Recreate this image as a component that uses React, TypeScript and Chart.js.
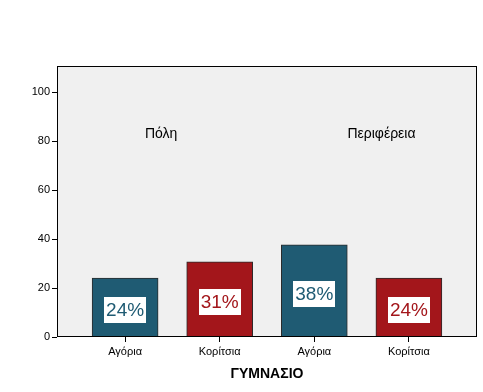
import React, { useEffect, useRef } from "react";
import { Chart, registerables } from "chart.js";

Chart.register(...registerables);

const categories = ["Αγόρια", "Κορίτσια", "Αγόρια", "Κορίτσια"];
const values = [24.1, 30.7, 37.7, 24.1];
const percentLabels = ["24%", "31%", "38%", "24%"];
const barColors = ["#1F5B73", "#A3161B", "#1F5B73", "#A3161B"];
const yTicks = [0, 20, 40, 60, 80, 100];
const groupLabels = ["Πόλη", "Περιφέρεια"];
const groupLabelX = [0.21, 2.35];
const groupLabelY = 81.2;
const axisTitle = "ΓΥΜΝΑΣΙΟ";

const FONT = "'Liberation Sans', Arial, sans-serif";

const plotPlugin = {
  id: "plotDecor",
  beforeDraw(chart: any) {
    const { ctx, chartArea: a, width, height } = chart;
    ctx.save();
    ctx.fillStyle = "#ffffff";
    ctx.fillRect(0, 0, width, height);
    ctx.fillStyle = "#F0F0F0";
    ctx.fillRect(a.left, a.top, a.right - a.left, a.bottom - a.top);
    ctx.restore();
  },
  afterDatasetsDraw(chart: any) {
    const { ctx, chartArea: a, scales } = chart;
    ctx.save();
    ctx.fillStyle = "#000000";
    ctx.font = `14px ${FONT}`;
    ctx.textAlign = "left";
    ctx.textBaseline = "alphabetic";
    groupLabels.forEach((t, i) => {
      ctx.fillText(t, scales.x.getPixelForValue(groupLabelX[i]), scales.y.getPixelForValue(groupLabelY));
    });
    const meta = chart.getDatasetMeta(0);
    ctx.font = `19px ${FONT}`;
    ctx.textAlign = "center";
    ctx.textBaseline = "middle";
    meta.data.forEach((bar: any, i: number) => {
      const cx = bar.x;
      const cy = (bar.y + bar.base) / 2 + 3;
      const w = 42, h = 26;
      ctx.fillStyle = "#ffffff";
      ctx.fillRect(Math.round(cx - w / 2), Math.round(cy - h / 2), w, h);
      ctx.fillStyle = barColors[i];
      ctx.fillText(percentLabels[i], cx, cy + 1);
    });
    ctx.strokeStyle = "#000000";
    ctx.lineWidth = 1;
    ctx.strokeRect(Math.round(a.left) + 0.5, Math.round(a.top) + 0.5, Math.round(a.right - a.left) - 1, Math.round(a.bottom - a.top) - 1);
    ctx.restore();
  },
};

export default function App() {
  const ref = useRef<HTMLCanvasElement | null>(null);
  useEffect(() => {
    document.body.style.margin = "0";
    const chart = new Chart(ref.current as HTMLCanvasElement, {
      type: "bar",
      data: {
        datasets: [
          {
            data: values.map((v, i) => ({ x: i, y: v })),
            backgroundColor: barColors,
            borderColor: "#2b2b2b",
            borderWidth: 1,
            barThickness: 66,
          } as any,
        ],
      },
      options: {
        animation: false,
        responsive: false,
        maintainAspectRatio: false,
        layout: { padding: { top: 66, right: 6, left: 0, bottom: 0 } },
        plugins: { legend: { display: false }, tooltip: { enabled: false } },
        scales: {
          x: {
            type: "linear",
            offset: false,
            min: -0.72,
            max: 3.72,
            afterBuildTicks: (s: any) => {
              s.ticks = categories.map((_, i) => ({ value: i }));
            },
            afterFit: (s: any) => {
              s.height = 55;
            },
            ticks: {
              callback: (v: any) => categories[v as number] ?? "",
              color: "#000000",
              font: { size: 11, family: FONT },
              padding: 3,
              maxRotation: 0,
              autoSkip: false,
            },
            grid: { offset: false, drawOnChartArea: false, tickLength: 5, color: "#000000" },
            border: { display: false },
            title: {
              display: true,
              text: axisTitle,
              color: "#000000",
              font: { size: 14, weight: "bold", family: FONT },
              padding: { top: 0, bottom: 9 },
            },
          },
          y: {
            min: 0,
            max: 110.7,
            afterBuildTicks: (s: any) => {
              s.ticks = yTicks.map((v) => ({ value: v }));
            },
            afterFit: (s: any) => {
              s.width = 57;
            },
            ticks: {
              color: "#000000",
              font: { size: 11, family: FONT },
              padding: 2,
            },
            grid: { drawOnChartArea: false, tickLength: 5, color: "#000000" },
            border: { display: false },
          },
        },
      },
      plugins: [plotPlugin],
    });
    return () => chart.destroy();
  }, []);
  return <canvas ref={ref} width={483} height={392} style={{ display: "block" }} />;
}
